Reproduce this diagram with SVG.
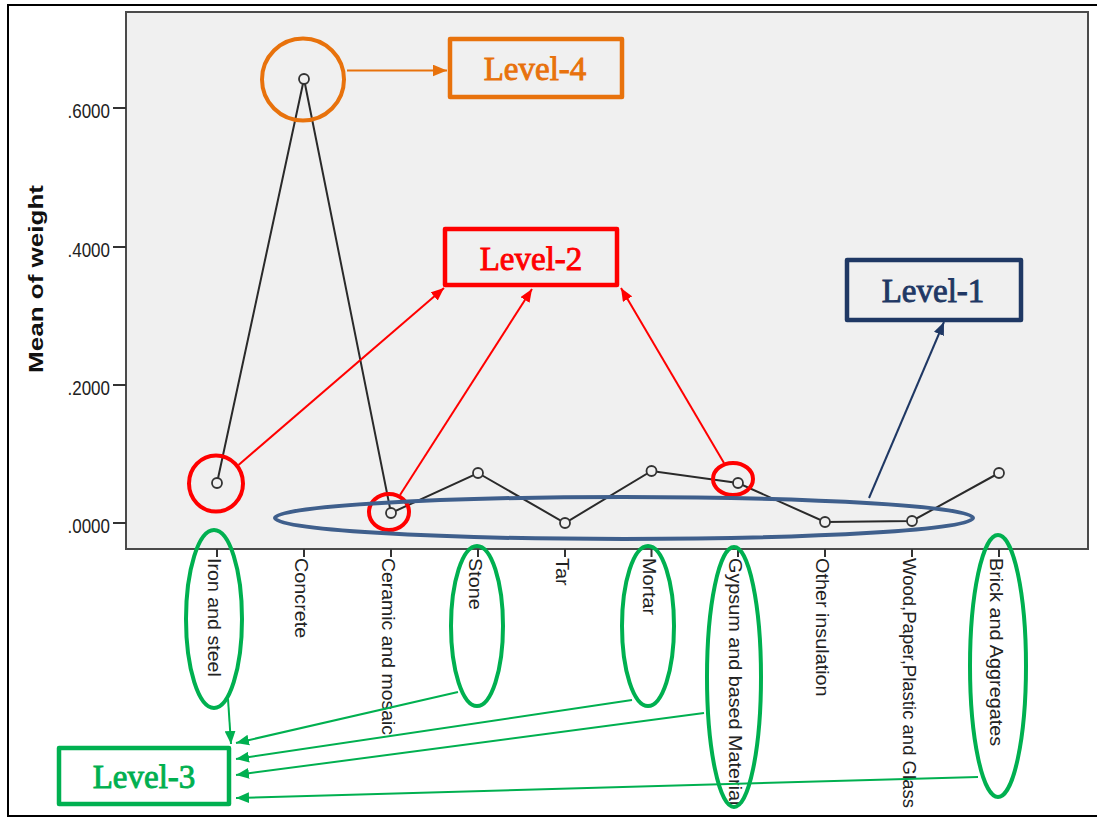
<svg xmlns="http://www.w3.org/2000/svg" width="1097" height="817" viewBox="0 0 1097 817">
<defs>
<style>
.frame{fill:#FFFFFF;stroke:#000;stroke-width:2}
.plot{fill:#F0F0F0;stroke:#4A4A4A;stroke-width:2}
.axis{stroke:#333;stroke-width:2;fill:none}
.ytl{font-family:"Liberation Sans",Arial,sans-serif;font-size:17px;fill:#222;text-anchor:end}
.xtl{font-family:"Liberation Sans",Arial,sans-serif;font-size:18px;fill:#222}
.ttl{font-family:"Liberation Sans",Arial,sans-serif;font-size:21px;font-weight:bold;fill:#111;text-anchor:middle}
.data{fill:none;stroke:#2A2A2A;stroke-width:2}
.pt{fill:#F0F0F0;stroke:#333;stroke-width:1.8}
.lvl{font-family:"Liberation Serif","Times New Roman",serif;font-size:33px;text-anchor:middle;stroke-width:0.9}
.box{fill:none;stroke-width:4.5;stroke-linejoin:round}
.ring{fill:none;stroke-width:4}
.con{fill:none;stroke-width:2}
</style>
<marker id="aO" viewBox="0 0 12 10" refX="12" refY="5" markerWidth="14" markerHeight="12" markerUnits="userSpaceOnUse" orient="auto"><path d="M0,0 L12,5 L0,10 z" fill="#E8720C"/></marker>
<marker id="aR" viewBox="0 0 12 10" refX="12" refY="5" markerWidth="13" markerHeight="11" markerUnits="userSpaceOnUse" orient="auto"><path d="M0,0 L12,5 L0,10 z" fill="#FF0000"/></marker>
<marker id="aB" viewBox="0 0 12 10" refX="12" refY="5" markerWidth="13" markerHeight="11" markerUnits="userSpaceOnUse" orient="auto"><path d="M0,0 L12,5 L0,10 z" fill="#1F3864"/></marker>
<marker id="aG" viewBox="0 0 12 10" refX="12" refY="5" markerWidth="13" markerHeight="11" markerUnits="userSpaceOnUse" orient="auto"><path d="M0,0 L12,5 L0,10 z" fill="#00B050"/></marker>
</defs>

<g id="background">
<rect class="frame" x="8" y="5" width="1100" height="811"/>
<rect class="plot" x="126" y="12" width="962" height="537"/>
</g>

<g id="y-axis">
<path class="axis" d="M113,108H126M113,247H126M113,385H126M113,523H126"/>
<text class="ytl" transform="translate(110,117.5) scale(1,1.15)">.6000</text>
<text class="ytl" transform="translate(110,256.5) scale(1,1.15)">.4000</text>
<text class="ytl" transform="translate(110,394.5) scale(1,1.15)">.2000</text>
<text class="ytl" transform="translate(110,532.5) scale(1,1.15)">.0000</text>
<text class="ttl" transform="translate(43,279) rotate(-90)" textLength="188" lengthAdjust="spacingAndGlyphs">Mean of weight</text>
</g>

<g id="x-axis">
<path class="axis" d="M217,549V557M304,549V557M391,549V557M478,549V557M565,549V557M651.5,549V557M738,549V557M825,549V557M912,549V557M999,549V557"/>
<text class="xtl" transform="translate(208,558) rotate(90) scale(1.09,1)">Iron and steel</text>
<text class="xtl" transform="translate(295,558) rotate(90) scale(1.1,1)">Concrete</text>
<text class="xtl" transform="translate(382,558) rotate(90) scale(1.08,1)">Ceramic and mosaic</text>
<text class="xtl" transform="translate(469,558) rotate(90) scale(1.1,1)">Stone</text>
<text class="xtl" transform="translate(556,558) rotate(90) scale(1.1,1)">Tar</text>
<text class="xtl" transform="translate(642.5,558) rotate(90) scale(1.1,1)">Mortar</text>
<text class="xtl" transform="translate(729,558) rotate(90) scale(1.1,1)">Gypsum and based Material</text>
<text class="xtl" transform="translate(816,558) rotate(90) scale(1.1,1)">Other insulation</text>
<text class="xtl" transform="translate(903,558) rotate(90) scale(1.03,1)">Wood,Paper,Plastic and Glass</text>
<text class="xtl" transform="translate(990,558) rotate(90) scale(1.1,1)">Brick and Aggregates</text>
</g>

<g id="data-line">
<polyline class="data" points="217,483 304,79 391,513 478,473 565,523 651.5,471 738,483 825,522 912,521 999,473"/>
<circle class="pt" cx="217" cy="483" r="5"/>
<circle class="pt" cx="304" cy="79" r="5"/>
<circle class="pt" cx="391" cy="513" r="5"/>
<circle class="pt" cx="478" cy="473" r="5"/>
<circle class="pt" cx="565" cy="523" r="5"/>
<circle class="pt" cx="651.5" cy="471" r="5"/>
<circle class="pt" cx="738" cy="483" r="5"/>
<circle class="pt" cx="825" cy="522" r="5"/>
<circle class="pt" cx="912" cy="521" r="5"/>
<circle class="pt" cx="999" cy="473" r="5"/>
</g>

<g id="highlights">
<circle class="ring" cx="303" cy="79.5" r="41" stroke="#E8720C" stroke-width="3.5"/>
<ellipse class="ring" cx="216" cy="483.5" rx="27" ry="28" stroke="#FF0000"/>
<ellipse class="ring" cx="389" cy="512" rx="20" ry="18" stroke="#FF0000"/>
<ellipse class="ring" cx="733" cy="479" rx="20" ry="16" stroke="#FF0000"/>
<ellipse class="ring" cx="624" cy="518" rx="349" ry="21" stroke="#3F5F8C"/>
<ellipse class="ring" cx="214" cy="619" rx="28" ry="89" stroke="#00B050"/>
<ellipse class="ring" cx="477" cy="626" rx="26" ry="80" stroke="#00B050"/>
<ellipse class="ring" cx="648" cy="626" rx="26" ry="80" stroke="#00B050"/>
<ellipse class="ring" cx="734" cy="677" rx="27" ry="130" stroke="#00B050"/>
<ellipse class="ring" cx="998" cy="666" rx="28" ry="131" stroke="#00B050"/>
</g>

<g id="connectors">
<line class="con" x1="347" y1="70.5" x2="447" y2="70.5" stroke="#E8720C" marker-end="url(#aO)"/>
<line class="con" x1="238.5" y1="465" x2="444" y2="288" stroke="#FF0000" marker-end="url(#aR)"/>
<line class="con" x1="400" y1="495" x2="532" y2="289" stroke="#FF0000" marker-end="url(#aR)"/>
<line class="con" x1="724" y1="463" x2="621" y2="288" stroke="#FF0000" marker-end="url(#aR)"/>
<line class="con" x1="869" y1="498" x2="944" y2="322" stroke="#1F3864" marker-end="url(#aB)"/>
<line class="con" x1="228" y1="699" x2="231" y2="744" stroke="#00B050" marker-end="url(#aG)"/>
<line class="con" x1="458" y1="692" x2="236" y2="743" stroke="#00B050" marker-end="url(#aG)"/>
<line class="con" x1="632" y1="700" x2="236" y2="759" stroke="#00B050" marker-end="url(#aG)"/>
<line class="con" x1="704" y1="713" x2="236" y2="775" stroke="#00B050" marker-end="url(#aG)"/>
<line class="con" x1="978" y1="777" x2="236" y2="798" stroke="#00B050" marker-end="url(#aG)"/>
</g>

<g id="level-4">
<rect class="box" x="450" y="39" width="172" height="58" stroke="#E8720C"/>
<text class="lvl" x="535" y="80" fill="#E8720C" stroke="#E8720C">Level-4</text>
</g>
<g id="level-2">
<rect class="box" x="445" y="229" width="172" height="56" stroke="#FF0000"/>
<text class="lvl" x="531" y="270" fill="#FF0000" stroke="#FF0000">Level-2</text>
</g>
<g id="level-1">
<rect class="box" x="847" y="260" width="174" height="60" stroke="#1F3864"/>
<text class="lvl" x="933" y="302" fill="#1F3864" stroke="#1F3864">Level-1</text>
</g>
<g id="level-3">
<rect class="box" x="59" y="748" width="170" height="56" stroke="#00B050"/>
<text class="lvl" x="144" y="788" fill="#00B050" stroke="#00B050">Level-3</text>
</g>
</svg>
